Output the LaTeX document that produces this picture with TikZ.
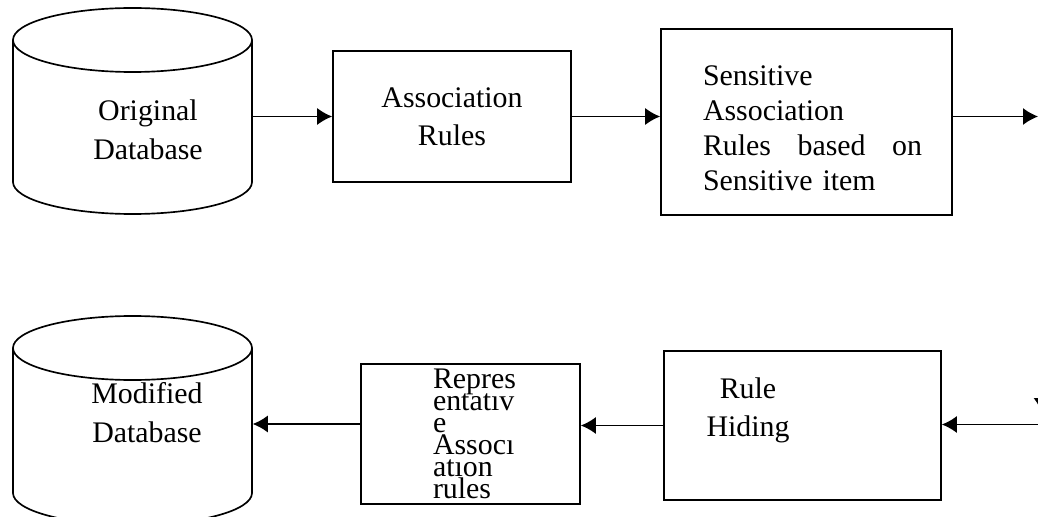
\documentclass[tikz,border=0pt]{standalone}
\usepackage{fontspec}
\setmainfont{Liberation Serif}
\usepackage{tikz}
\usetikzlibrary{arrows.meta, positioning, calc}

\newcommand{\tightlines}{\lineskiplimit=-100pt\relax}

\tikzset{
  box/.style={draw, line width=0.95pt, inner sep=3pt, font=\fontsize{17}{21.5}\selectfont},
  dbtext/.style={inner sep=0pt, align=center, font=\fontsize{17}{22}\selectfont},
  dbbody/.style={inner sep=0pt, minimum width=4.78cm},
  >={Latex[length=3mm,width=3.4mm]}
}

\begin{document}
\begin{tikzpicture}[line width=0.85pt]
		\useasboundingbox (0,0) rectangle (20.76,-10.34);
		\clip (0,0) rectangle (20.76,-10.34);

		% databases
		\draw[line width=0.95pt] (0.26,-0.8) -- (0.26,-3.64) arc[start angle=180, end angle=360, x radius=2.39cm, y radius=0.64cm] -- (5.04,-0.8);
		\draw[line width=0.95pt] (2.65,-0.8) ellipse [x radius=2.39cm, y radius=0.64cm];
		\draw[line width=0.95pt] (0.26,-6.96) -- (0.26,-9.86) arc[start angle=180, end angle=360, x radius=2.39cm, y radius=0.64cm] -- (5.04,-6.96);
		\draw[line width=0.95pt] (2.65,-6.96) ellipse [x radius=2.39cm, y radius=0.64cm];

		\draw (2.65cm,-2.32cm) node[dbbody, minimum height=2.84cm] (odb){}
		(2.96cm,-2.6cm) node[dbtext] (odbtxt) {Original\\Database}
		(2.65cm,-8.48cm) node[dbbody, minimum height=2.9cm] (mdb){}
		(2.94cm,-8.25cm) node[dbtext] (mdbtxt) {Modified\\Database};

		% boxes
		\draw (9.04cm,-2.33cm) node[box, minimum width=4.76cm, minimum height=2.62cm, align=center] (assoc) {Association\\Rules}
		(16.13cm,-2.44cm) node[box, minimum width=5.82cm, minimum height=3.72cm] (sens) {}
		(16.25cm,-2.56cm) node[inner sep=0pt, text width=4.38cm, align=left, font={\fontsize{17}{20}\selectfont}] (senstxt) {Sensitive\\Association\\\makebox[4.38cm][l]{Rules\hfill based\hfill on}\\Sensitive item}
		(16.05cm,-8.51cm) node[box, minimum width=5.54cm, minimum height=2.98cm] (hide) {}
		(14.96cm,-8.21cm) node[dbtext] (hidetxt) {Rule\\Hiding}
		(9.41cm,-8.68cm) node[box, minimum width=4.38cm, minimum height=2.6cm, text width=1.5cm, align=left, font={\fontsize{17}{12.5}\selectfont}] (rep) {\tightlines Repres\\entat\i v\\e\\Assoc\i\\at\i on\\rules};

		\coordinate (out) at (20.76,-2.33);
		\coordinate (in) at (20.76,-8.49);
		\coordinate (down) at (20.84,-8.26);

		\draw[->] (odb.east |- assoc.west) -- (assoc.west);
		\draw[->] (assoc.east) -- (assoc.east -| sens.west);
		\draw[->] (out -| sens.east) -- (out);
		\draw[->] (down |- out) -- (down);
		\draw[->] (in) -- (in -| hide.east);
		\draw[->] (hide.west) -- (hide.west -| rep.east);
		\draw[->] (mdb.east -| rep.west) -- (mdb.east);
	\end{tikzpicture}
\end{document}
